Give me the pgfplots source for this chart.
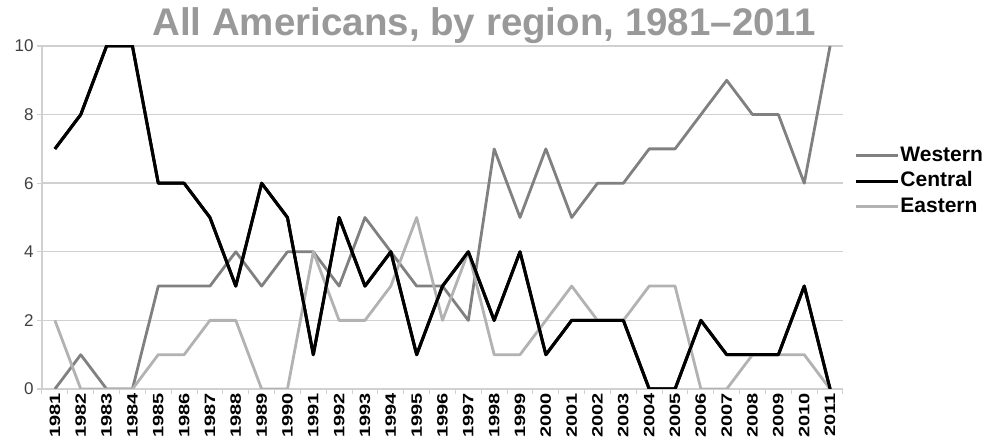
\documentclass[border=0pt]{standalone}
\usepackage{pgfplots}
\pgfplotsset{compat=1.18}
\usepackage{fontspec}
\setmainfont{Liberation Sans}
\definecolor{western}{HTML}{808080}
\definecolor{eastern}{HTML}{B2B2B2}
\definecolor{titlegray}{HTML}{999999}
\definecolor{gridgray}{HTML}{D0D0D0}
\definecolor{labgray}{HTML}{404040}
\begin{document}
\begin{tikzpicture}
\path[use as bounding box] (0,0) rectangle (989pt,441pt);
\begin{axis}[
  at={(42pt,52pt)}, anchor=south west,
  scale only axis, width=801pt, height=343pt,
  xmin=1980.5, xmax=2011.5, ymin=0, ymax=10,
  axis x line*=bottom, axis y line*=left,
  axis line style={gridgray, line width=1.2pt},
  xtick={1981,...,2011},
  minor xtick={1980.5,1981.5,...,2011.5},
  ytick={0,2,...,10},
  ymajorgrids,
  grid style={gridgray, line width=1.4pt},
  tick align=outside,
  major tick length=5pt, minor tick length=5pt,
  major x tick style={draw=none},
  minor x tick style={gridgray, line width=1pt},
  y tick style={gridgray, line width=1.2pt},
  /pgf/number format/assume math mode=true,
  xticklabel={\scalebox{1}[0.75]{\bfseries\fontsize{20}{21}\selectfont\pgfmathprintnumber[1000 sep={},assume math mode=true]{\tick}}},
  xticklabel style={rotate=90, anchor=east, inner sep=0pt},
  xticklabel shift=-1pt,
  yticklabel={\fontsize{17}{18}\selectfont\pgfmathprintnumber[assume math mode=true]{\tick}},
  yticklabel style={text=labgray},
  legend style={at={(1.014,0.606)}, anchor=west, draw=none, fill=none,
    font=\bfseries\fontsize{21}{25}\selectfont, row sep=4.5pt, inner sep=0pt,
    nodes={inner sep=1pt, text height=15pt, text depth=4pt}},
  legend cell align=left,
  legend image code/.code={\draw[#1] (0pt,0pt) -- (42pt,0pt);},
  every axis plot/.append style={line join=round},
]
\addplot[western, line width=2.8pt] coordinates {
(1981,0)(1982,1)(1983,0)(1984,0)(1985,3)(1986,3)(1987,3)(1988,4)(1989,3)(1990,4)
(1991,4)(1992,3)(1993,5)(1994,4)(1995,3)(1996,3)(1997,2)(1998,7)(1999,5)(2000,7)
(2001,5)(2002,6)(2003,6)(2004,7)(2005,7)(2006,8)(2007,9)(2008,8)(2009,8)(2010,6)(2011,10)};
\addlegendentry{Western}
\addplot[black, line width=3pt] coordinates {
(1981,7)(1982,8)(1983,10)(1984,10)(1985,6)(1986,6)(1987,5)(1988,3)(1989,6)(1990,5)
(1991,1)(1992,5)(1993,3)(1994,4)(1995,1)(1996,3)(1997,4)(1998,2)(1999,4)(2000,1)
(2001,2)(2002,2)(2003,2)(2004,0)(2005,0)(2006,2)(2007,1)(2008,1)(2009,1)(2010,3)(2011,0)};
\addlegendentry{Central}
\addplot[eastern, line width=2.8pt] coordinates {
(1981,2)(1982,0)(1983,0)(1984,0)(1985,1)(1986,1)(1987,2)(1988,2)(1989,0)(1990,0)
(1991,4)(1992,2)(1993,2)(1994,3)(1995,5)(1996,2)(1997,4)(1998,1)(1999,1)(2000,2)
(2001,3)(2002,2)(2003,2)(2004,3)(2005,3)(2006,0)(2007,0)(2008,1)(2009,1)(2010,1)(2011,0)};
\addlegendentry{Eastern}
\addplot[black, line width=3pt, forget plot] coordinates {
(1981,7)(1982,8)(1983,10)(1984,10)(1985,6)(1986,6)(1987,5)(1988,3)(1989,6)(1990,5)
(1991,1)(1992,5)(1993,3)(1994,4)(1995,1)(1996,3)(1997,4)(1998,2)(1999,4)(2000,1)
(2001,2)(2002,2)(2003,2)(2004,0)(2005,0)(2006,2)(2007,1)(2008,1)(2009,1)(2010,3)(2011,0)};
\end{axis}
\node[anchor=base, text=titlegray, font=\bfseries\fontsize{38.5}{40}\selectfont] at (484pt,405pt) {All Americans, by region, 1981–2011};
\end{tikzpicture}
\end{document}
